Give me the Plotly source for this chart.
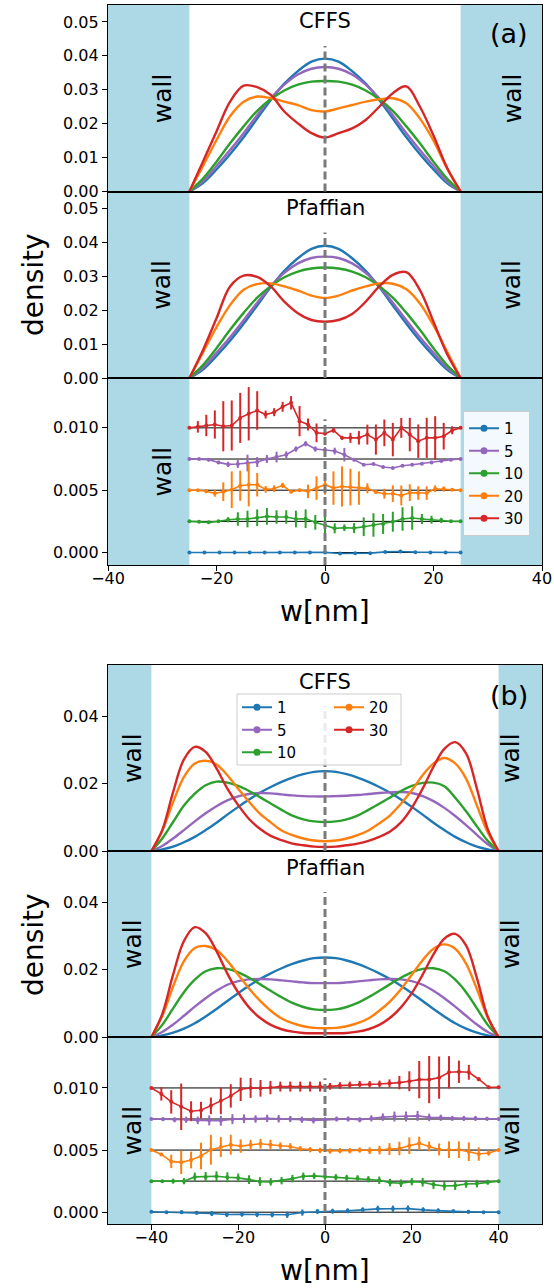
import plotly.graph_objects as go

# ------------------------------------------------------------------ data
LABELS = ["1", "5", "10", "20", "30"]
COLORS = ["#1f77b4", "#9467bd", "#2ca02c", "#ff7f0e", "#d62728"]
# vertical offsets used to stack the CFFS - Pfaffian differences
OFFSETS = [0.0, 0.0075, 0.0025, 0.005, 0.010]

# ---- (a): 50 nm channel ----
W_A = [-25.0, -22.5, -20.0, -17.5, -15.0, -12.5, -10.0, -7.5, -5.0, -2.5, 0.0,
       2.5, 5.0, 7.5, 10.0, 12.5, 15.0, 17.5, 20.0, 22.5, 25.0]

A_CFFS_1 = [0, 0.0025, 0.0065, 0.0110, 0.0160, 0.0215, 0.0270, 0.0318, 0.0355, 0.0383, 0.0392,
            0.0383, 0.0355, 0.0318, 0.0270, 0.0215, 0.0160, 0.0110, 0.0065, 0.0025, 0]
A_CFFS_5 = [0, 0.0030, 0.0075, 0.0122, 0.0172, 0.0225, 0.0275, 0.0315, 0.0345, 0.0362, 0.0367,
            0.0362, 0.0345, 0.0315, 0.0275, 0.0225, 0.0172, 0.0122, 0.0075, 0.0030, 0]
A_CFFS_10 = [0, 0.0038, 0.0088, 0.0142, 0.0192, 0.0238, 0.0272, 0.0298, 0.0315, 0.0324, 0.0326,
             0.0324, 0.0315, 0.0298, 0.0272, 0.0238, 0.0192, 0.0142, 0.0088, 0.0038, 0]
A_CFFS_20 = [0, 0.0075, 0.0152, 0.0222, 0.0265, 0.0280, 0.0275, 0.0265, 0.0255, 0.0240, 0.0236,
             0.0245, 0.0255, 0.0265, 0.0272, 0.0275, 0.0260, 0.0215, 0.0150, 0.0068, 0]
A_CFFS_30 = [0, 0.0088, 0.0177, 0.0265, 0.0312, 0.0308, 0.0285, 0.0236, 0.0201, 0.0172, 0.0159,
             0.0172, 0.0186, 0.0211, 0.0250, 0.0290, 0.0310, 0.0250, 0.0165, 0.0070, 0]

A_PF_1 = [0, 0.0025, 0.0065, 0.0110, 0.0160, 0.0214, 0.0268, 0.0316, 0.0353, 0.0381, 0.0390,
          0.0381, 0.0353, 0.0316, 0.0268, 0.0214, 0.0160, 0.0110, 0.0065, 0.0025, 0]
A_PF_5 = [0, 0.0030, 0.0074, 0.0120, 0.0170, 0.0222, 0.0271, 0.0310, 0.0338, 0.0354, 0.0358,
          0.0354, 0.0338, 0.0310, 0.0271, 0.0222, 0.0170, 0.0120, 0.0074, 0.0030, 0]
A_PF_10 = [0, 0.0038, 0.0088, 0.0142, 0.0192, 0.0237, 0.0271, 0.0297, 0.0314, 0.0323, 0.0326,
           0.0323, 0.0314, 0.0297, 0.0271, 0.0237, 0.0192, 0.0142, 0.0088, 0.0038, 0]
A_PF_20 = [0, 0.0075, 0.0150, 0.0215, 0.0260, 0.0277, 0.0279, 0.0270, 0.0258, 0.0243, 0.0236,
           0.0243, 0.0258, 0.0270, 0.0279, 0.0278, 0.0262, 0.0220, 0.0155, 0.0078, 0]
A_PF_30 = [0, 0.0082, 0.0176, 0.0270, 0.0302, 0.0298, 0.0270, 0.0225, 0.0191, 0.0171, 0.0166,
           0.0171, 0.0189, 0.0225, 0.0270, 0.0304, 0.0312, 0.0259, 0.0166, 0.0071, 0]

# differences (units of 1e-4) and their error bars
A_DX_1 = [-25, -22.22, -19.44, -16.67, -13.89, -11.11, -8.33, -5.56, -2.78, 0,
          2.78, 5.56, 8.33, 11.11, 13.89, 16.67, 19.44, 22.22, 25]
A_DX_5 = [-25, -23.21, -21.43, -19.64, -17.86, -16.07, -14.29, -12.5, -10.71, -8.93, -7.14,
          -5.36, -3.57, -1.79, 0, 1.79, 3.57, 5.36, 7.14, 8.93, 10.71, 12.5, 14.29, 16.07,
          17.86, 19.64, 21.43, 23.21, 25]
A_DX_10 = A_DX_5
A_DX_20 = [-25, -23.44, -21.88, -20.31, -18.75, -17.19, -15.63, -14.06, -12.5, -10.94, -9.38,
           -7.81, -6.25, -4.69, -3.13, -1.56, 0, 1.56, 3.13, 4.69, 6.25, 7.81, 9.38, 10.94,
           12.5, 14.06, 15.63, 17.19, 18.75, 20.31, 21.88, 23.44, 25]
A_DX_30 = A_DX_20

A_D_1 = [0, 0, 0, 0, 0, 0, 0, 0, 0.1, 0.1, -0.8, -0.6, -0.5, 0.5, 0.8, 0.3, 0, 0, 0]
A_E_1 = [0, 0.3, 0.3, 0.3, 0.3, 0.3, 0.3, 0.3, 0.3, 0.3, 0.4, 0.4, 0.4, 0.4, 0.4, 0.3, 0.3, 0.3, 0]
A_D_5 = [0, 0, -0.5, -2.7, -4.3, -4.0, -3.2, -2.4, 0, 1.6, 3.5, 8.0, 12.3, 8.0, 7.5, 6.4, 3.5,
         -0.5, -4.6, -4.0, -6.4, -7.2, -5.4, -4.6, -3.8, -2.7, -1.6, -0.5, 0]
A_E_5 = [0, 0.8, 1.3, 1.3, 2.1, 3.2, 6.7, 4.0, 3.2, 4.3, 2.7, 2.1, 2.1, 2.1, 2.1, 2.7, 5.4,
         1.3, 0.8, 0.8, 0.8, 0.8, 0.8, 0.8, 0.8, 0.8, 0.8, 0.8, 0]
A_D_10 = [0, -0.3, -0.8, 0, 1.3, 1.9, 1.9, 2.9, 4.0, 3.5, 3.5, 1.9, 2.1, -0.8, -2.9, -5.6, -5.1,
          -5.4, -4.3, -2.9, -2.1, -0.3, 1.9, 2.7, 1.9, 1.3, 0.8, 0, 0]
A_E_10 = [0, 0.5, 0.8, 1.1, 2.1, 5.4, 6.7, 6.7, 6.7, 5.4, 5.4, 6.7, 7.5, 5.9, 6.7, 4.0, 2.7,
          4.0, 7.5, 9.4, 8.0, 8.0, 9.4, 9.4, 4.0, 3.2, 2.1, 0.8, 0]
A_D_20 = [0, -0.1, -0.9, -2.5, -1.2, 0.4, 3.6, 4.4, 4.4, 0.7, 1.2, 3.9, -1.2, -0.1, -0.9, 1.7,
          4.4, 1.7, 3.0, 2.5, 1.7, 1.5, -1.5, -2.8, -2.8, -4.2, -2.0, -2.3, -2.3, 1.2, 0.9, 0.4, 0]
A_E_20 = [0, 0.8, 1.3, 2.7, 7.5, 14.7, 12.1, 17.4, 9.4, 2.7, 2.7, 2.1, 1.3, 1.3, 5.4, 9.4, 8.0,
          13.4, 16.1, 14.7, 13.4, 4.0, 1.3, 4.0, 6.7, 8.0, 6.7, 5.4, 5.4, 2.7, 2.1, 0.8, 0]
A_D_30 = [0, 0.8, 1.9, 2.7, 1.3, 1.9, 8.0, 11.3, 13.9, 10.7, 12.6, 16.9, 20.1, 5.4, 2.7, -4.0,
          -4.6, -1.9, -8.0, -8.0, -8.0, -5.4, -9.4, -4.0, -9.4, 0.0, -5.4, -10.7, -8.0, -8.0,
          -6.7, -1.9, 0]
A_E_30 = [0, 4.6, 8.6, 11.3, 20.1, 20.1, 20.1, 21.4, 15.5, 3.2, 3.2, 4.0, 5.4, 12.1, 4.8, 7.5,
          1.6, 2.1, 1.6, 4.0, 5.4, 8.0, 12.1, 10.7, 13.4, 8.0, 13.4, 13.4, 16.1, 17.4, 10.7, 3.2, 1.1]

# ---- (b): 80 nm channel ----
W_B = [-40.0, -37.5, -35.0, -32.5, -30.0, -27.5, -25.0, -22.5, -20.0, -17.5, -15.0, -12.5,
       -10.0, -7.5, -5.0, -2.5, 0.0, 2.5, 5.0, 7.5, 10.0, 12.5, 15.0, 17.5, 20.0, 22.5,
       25.0, 27.5, 30.0, 32.5, 35.0, 37.5, 40.0]

B_CFFS_1 = [0, 0.0005, 0.0013, 0.0026, 0.0042, 0.0062, 0.0084, 0.0108, 0.0131, 0.0153, 0.0173,
            0.0190, 0.0205, 0.0218, 0.0228, 0.0235, 0.0237, 0.0235, 0.0228, 0.0218, 0.0205,
            0.0190, 0.0173, 0.0153, 0.0131, 0.0108, 0.0084, 0.0062, 0.0042, 0.0026, 0.0013,
            0.0005, 0]
B_CFFS_5 = [0, 0.0015, 0.0037, 0.0062, 0.0088, 0.0112, 0.0133, 0.0150, 0.0162, 0.0169, 0.0172,
            0.0171, 0.0168, 0.0165, 0.0163, 0.0162, 0.0162, 0.0163, 0.0164, 0.0166, 0.0169,
            0.0172, 0.0174, 0.0175, 0.0172, 0.0163, 0.0148, 0.0128, 0.0104, 0.0077, 0.0048,
            0.0020, 0]
B_CFFS_10 = [0, 0.0037, 0.0086, 0.0135, 0.0170, 0.0195, 0.0206, 0.0203, 0.0193, 0.0178, 0.0160,
             0.0141, 0.0122, 0.0105, 0.0094, 0.0088, 0.0086, 0.0088, 0.0094, 0.0105, 0.0122,
             0.0140, 0.0159, 0.0178, 0.0193, 0.0202, 0.0203, 0.0192, 0.0158, 0.0118, 0.0073,
             0.0030, 0]
B_CFFS_20 = [0, 0.0060, 0.0145, 0.0220, 0.0260, 0.0268, 0.0257, 0.0225, 0.0185, 0.0146, 0.0111,
             0.0085, 0.0061, 0.0047, 0.0037, 0.0031, 0.0029, 0.0031, 0.0037, 0.0047, 0.0061,
             0.0082, 0.0106, 0.0140, 0.0180, 0.0225, 0.0260, 0.0276, 0.0260, 0.0215, 0.0135,
             0.0055, 0]
B_CFFS_30 = [0, 0.0062, 0.0175, 0.0272, 0.0309, 0.0294, 0.0245, 0.0185, 0.0136, 0.0095, 0.0066,
             0.0045, 0.0032, 0.0022, 0.0017, 0.0013, 0.0012, 0.0013, 0.0017, 0.0022, 0.0030,
             0.0042, 0.0058, 0.0085, 0.0128, 0.0185, 0.0250, 0.0303, 0.0323, 0.0290, 0.0185,
             0.0065, 0]

B_PF_1 = [0, 0.0005, 0.0013, 0.0025, 0.0041, 0.0061, 0.0083, 0.0107, 0.0130, 0.0152, 0.0172,
          0.0189, 0.0204, 0.0217, 0.0227, 0.0234, 0.0236, 0.0234, 0.0227, 0.0217, 0.0204,
          0.0189, 0.0172, 0.0152, 0.0130, 0.0107, 0.0083, 0.0061, 0.0041, 0.0025, 0.0013,
          0.0005, 0]
B_PF_5 = [0, 0.0015, 0.0037, 0.0063, 0.0090, 0.0115, 0.0137, 0.0155, 0.0166, 0.0171, 0.0172,
          0.0171, 0.0168, 0.0165, 0.0162, 0.0160, 0.0160, 0.0160, 0.0162, 0.0165, 0.0168,
          0.0171, 0.0172, 0.0171, 0.0166, 0.0155, 0.0137, 0.0115, 0.0090, 0.0063, 0.0037,
          0.0015, 0]
B_PF_10 = [0, 0.0036, 0.0085, 0.0133, 0.0170, 0.0195, 0.0204, 0.0202, 0.0192, 0.0176, 0.0157,
           0.0137, 0.0118, 0.0101, 0.0089, 0.0082, 0.0080, 0.0082, 0.0089, 0.0101, 0.0118,
           0.0137, 0.0157, 0.0176, 0.0192, 0.0202, 0.0204, 0.0195, 0.0170, 0.0133, 0.0085,
           0.0036, 0]
B_PF_20 = [0, 0.0062, 0.0150, 0.0225, 0.0264, 0.0270, 0.0258, 0.0226, 0.0185, 0.0144, 0.0108,
           0.0078, 0.0055, 0.0041, 0.0032, 0.0027, 0.0026, 0.0027, 0.0032, 0.0041, 0.0055,
           0.0078, 0.0106, 0.0142, 0.0185, 0.0228, 0.0262, 0.0275, 0.0262, 0.0218, 0.0142,
           0.0058, 0]
B_PF_30 = [0, 0.0068, 0.0185, 0.0285, 0.0326, 0.0308, 0.0255, 0.0188, 0.0132, 0.0088, 0.0057,
           0.0036, 0.0023, 0.0016, 0.0012, 0.0011, 0.0011, 0.0011, 0.0012, 0.0016, 0.0023,
           0.0036, 0.0057, 0.0088, 0.0130, 0.0185, 0.0245, 0.0292, 0.0306, 0.0272, 0.0175,
           0.0060, 0]

B_DX_1 = [-40, -36.52, -33.04, -29.57, -26.09, -22.61, -19.13, -15.65, -12.17, -8.70, -5.22,
          -1.74, 1.74, 5.22, 8.70, 12.17, 15.65, 19.13, 22.61, 26.09, 29.57, 33.04, 36.52, 40]
B_DX_5 = [-40, -37.33, -34.67, -32, -29.33, -26.67, -24, -21.33, -18.67, -16, -13.33, -10.67,
          -8, -5.33, -2.67, 0, 2.67, 5.33, 8, 10.67, 13.33, 16, 18.67, 21.33, 24, 26.67,
          29.33, 32, 34.67, 37.33, 40]
B_DX_10 = W_B
B_DX_20 = [-40, -37.71, -35.43, -33.14, -30.86, -28.57, -26.29, -24, -21.71, -19.43, -17.14,
           -14.86, -12.57, -10.29, -8, -5.71, -3.43, -1.14, 1.14, 3.43, 5.71, 8, 10.29, 12.57,
           14.86, 17.14, 19.43, 21.71, 24, 26.29, 28.57, 30.86, 33.14, 35.43, 37.71, 40]
B_DX_30 = B_DX_20

B_D_1 = [0.3, 0, 0, -0.5, -1.1, -1.9, -1.6, -1.9, -2.1, -2.1, -0.3, 0.5, 0.8, 1.1, 1.9, 2.7,
         2.8, 2.9, 1.9, 1.1, 0.7, 0.3, 0, 0]
B_E_1 = [0, 1, 1.5, 1.5, 2, 2, 2, 2, 2, 2.5, 2.5, 2, 2, 2, 2, 2.5, 2.5, 2.5, 2, 2, 1.5, 1.5, 1, 0]
B_D_5 = [0, -0.1, -0.6, -0.6, -1.1, -1.1, -1.4, -0.1, 0.2, 0, 0.5, 0.2, 0, -0.6, -1.1, -0.6,
         0, 0, -0.6, 0.5, 1.5, 2.0, 2.0, 2.5, 1.3, 1.0, 0.5, 0.5, 0.5, 0.2, 0]
B_E_5 = [0, 1.5, 2, 2.5, 3, 4, 4, 4, 3.5, 3, 3, 3, 2.5, 2.5, 2.5, 2, 2, 2, 2, 2.5, 3, 4, 4, 4,
         3, 2.5, 2, 2, 2, 1.5, 0]
B_D_10 = [0, 0, 0, 0, 3.4, 3.4, 3.9, 3.1, 2.6, 1.2, -0.4, -0.6, 0.4, 2.0, 3.9, 4.2, 3.6, 3.1,
          2.6, 2.3, 1.5, 0.7, -1.2, -1.7, -0.4, -0.9, -2.8, -3.9, -3.6, -2.3, -2.0, -0.9, 0]
B_E_10 = [0, 1, 2, 2.5, 3.5, 4, 4, 4, 3.5, 3.5, 3.5, 3, 3, 3, 3, 2.5, 2.5, 2.5, 2.5, 2.5, 2.5,
          3, 3, 3, 3, 3.5, 3.5, 3.5, 3.5, 3, 3, 2, 0]
B_D_20 = [0, -3.5, -9.1, -9.9, -8.0, -4.8, 0.3, 2.4, 4.3, 3.2, 4.3, 5.1, 4.3, 3.5, 2.9, 1.1, 0.3,
          -0.3, -0.8, -0.5, -0.5, 0, -0.5, 0, 0.8, 1.3, 3.5, 5.4, 2.9, 0.5, 0.3, 0.3, -1.3,
          -3.2, -2.4, 0]
B_E_20 = [0, 1.3, 5.4, 9.4, 6.7, 10.7, 12.0, 8.0, 8.0, 5.4, 4.0, 4.0, 4.0, 2.7, 2.7, 2.1, 2.1,
          2.1, 2.1, 2.1, 2.1, 2.1, 2.7, 3.5, 4.8, 5.4, 6.7, 5.4, 4.0, 4.8, 6.7, 6.7, 7.5, 5.4,
          2.1, 0]
B_D_30 = [0, -4.8, -11.2, -15.2, -18.7, -17.9, -14.4, -10.4, -6.4, -1.1, 0, -0.3, 0.3, 1.1,
          1.1, 1.1, 1.1, 1.1, 1.3, 1.9, 2.4, 2.9, 2.9, 3.2, 3.7, 4.3, 5.4, 6.7, 6.7, 8.3, 12.6,
          13.0, 12.6, 7.0, 0.5, 0.5]
B_E_30 = [0, 5.4, 9.4, 18.7, 8.0, 6.7, 6.7, 10.7, 9.4, 9.4, 8.0, 6.7, 5.4, 4.0, 4.0, 4.0, 4.0,
          4.0, 2.7, 2.7, 2.7, 2.7, 2.7, 2.7, 3.2, 5.4, 8.0, 15.0, 19.0, 17.0, 13.0, 9.0, 6.0,
          1.5, 1.3, 0]

# ---------------------------------------------------------------- layout
W, H = 554, 1288
FONT = "DejaVu Sans"
WALL_COLOR = "#add8e6"

# pixel rows (top, bottom) of the six stacked axes
ROWS = [(5, 191.5), (191.5, 378), (378, 565), (665, 851), (851, 1037), (1037, 1224)]
X_LEFT, X_RIGHT = 108, 542
X_RANGE = {"a": [-40, 40], "b": [-50, 50]}
WALL = {"a": 25, "b": 40}
Y_RANGE = [[0, 0.055], [0, 0.055], [-0.001, 0.0140],
           [0, 0.0552], [0, 0.0552], [-0.00095, 0.0141]]
Y_TICKS = [[0, 0.01, 0.02, 0.03, 0.04, 0.05], [0, 0.01, 0.02, 0.03, 0.04, 0.05],
           [0, 0.005, 0.010], [0, 0.02, 0.04], [0, 0.02, 0.04], [0, 0.005, 0.010]]
Y_FMT = [".2f", ".2f", ".3f", ".2f", ".2f", ".3f"]


def px(x):
    return x / W


def py(y):
    return 1 - y / H


def ax_name(k, letter):
    return letter if k == 1 else f"{letter}{k}"


fig = go.Figure()

density = {
    1: (W_A, [A_CFFS_1, A_CFFS_5, A_CFFS_10, A_CFFS_20, A_CFFS_30]),
    2: (W_A, [A_PF_1, A_PF_5, A_PF_10, A_PF_20, A_PF_30]),
    4: (W_B, [B_CFFS_1, B_CFFS_5, B_CFFS_10, B_CFFS_20, B_CFFS_30]),
    5: (W_B, [B_PF_1, B_PF_5, B_PF_10, B_PF_20, B_PF_30]),
}
for k, (xs, series) in density.items():
    for ys, col in zip(series, COLORS):
        fig.add_trace(go.Scatter(
            x=xs, y=ys, mode="lines", line=dict(color=col, width=2.4, shape="spline"),
            xaxis=ax_name(k, "x"), yaxis=ax_name(k, "y"), showlegend=False,
            hoverinfo="skip"))

diffs = {
    3: ("a", [(A_DX_1, A_D_1, A_E_1), (A_DX_5, A_D_5, A_E_5), (A_DX_10, A_D_10, A_E_10),
              (A_DX_20, A_D_20, A_E_20), (A_DX_30, A_D_30, A_E_30)]),
    6: ("b", [(B_DX_1, B_D_1, B_E_1), (B_DX_5, B_D_5, B_E_5), (B_DX_10, B_D_10, B_E_10),
              (B_DX_20, B_D_20, B_E_20), (B_DX_30, B_D_30, B_E_30)]),
}
for k, (panel, series) in diffs.items():
    xa, ya = ax_name(k, "x"), ax_name(k, "y")
    w = WALL[panel]
    for off in OFFSETS:
        fig.add_trace(go.Scatter(
            x=[-w, w], y=[off, off], mode="lines", line=dict(color="black", width=1),
            xaxis=xa, yaxis=ya, showlegend=False, hoverinfo="skip"))
    for (xs, d, e), col, off in zip(series, COLORS, OFFSETS):
        fig.add_trace(go.Scatter(
            x=xs, y=[off + v * 1e-4 for v in d], mode="lines+markers",
            line=dict(color=col, width=1.6), marker=dict(color=col, size=4),
            error_y=dict(type="data", array=[v * 1e-4 for v in e], color=col,
                         thickness=2, width=0),
            xaxis=xa, yaxis=ya, showlegend=False, hoverinfo="skip"))

# legend entries
for i, (lab, col) in enumerate(zip(LABELS, COLORS)):
    for leg in ("legend", "legend2" if i < 3 else "legend3"):
        fig.add_trace(go.Scatter(
            x=[None], y=[None], mode="lines+markers", name=lab,
            line=dict(color=col, width=2), marker=dict(color=col, size=7),
            legend=leg, showlegend=True))

layout = dict(
    width=W, height=H, margin=dict(l=0, r=0, t=0, b=0), autosize=False,
    paper_bgcolor="white", plot_bgcolor="white",
    font=dict(family=FONT, color="black", size=16),
    shapes=[], annotations=[],
)

for k, (top, bot) in enumerate(ROWS, 1):
    panel = "a" if k <= 3 else "b"
    bottom_row = k in (3, 6)
    layout["xaxis" if k == 1 else f"xaxis{k}"] = dict(
        domain=[px(X_LEFT), px(X_RIGHT)], range=X_RANGE[panel], anchor=ax_name(k, "y"),
        showline=True, mirror=True, linecolor="black", linewidth=1.2,
        showgrid=False, zeroline=False, automargin=False,
        ticks="outside" if bottom_row else "", showticklabels=bottom_row,
        tickvals=[-40, -20, 0, 20, 40], ticklen=5, tickwidth=1.2, tickcolor="black",
        ticklabelstandoff=-6,
        tickfont=dict(size=16, color="black", family=FONT))
    layout["yaxis" if k == 1 else f"yaxis{k}"] = dict(
        domain=[py(bot), py(top)], range=Y_RANGE[k - 1], anchor=ax_name(k, "x"),
        showline=True, mirror=True, linecolor="black", linewidth=1.2,
        showgrid=False, zeroline=False, automargin=False,
        ticks="outside", tickvals=Y_TICKS[k - 1], tickformat=Y_FMT[k - 1],
        ticklen=5, tickwidth=1.2, tickcolor="black",
        tickfont=dict(size=16, color="black", family=FONT))

    xr = X_RANGE[panel]
    w = WALL[panel]
    xa, ya = ax_name(k, "x"), ax_name(k, "y")
    for x0, x1 in ((xr[0], -w), (w, xr[1])):
        layout["shapes"].append(dict(
            type="rect", xref=xa, yref=f"{ya} domain", x0=x0, x1=x1, y0=0, y1=1,
            fillcolor=WALL_COLOR, line=dict(width=0), layer="below"))
    layout["shapes"].append(dict(
        type="line", xref=xa, yref=f"{ya} domain", x0=0, x1=0, y0=0, y1=0.78,
        line=dict(color="#7a7a7a", width=3, dash="8px,4px"), layer="above"))

    # "wall" labels
    mid = (top + bot) / 2
    wall_x = (162, 512) if panel == "a" else (132, 510)
    sides = [0] if k == 3 else [0, 1]
    for s in sides:
        layout["annotations"].append(dict(
            text="wall", x=px(wall_x[s]), y=py(mid), xref="paper", yref="paper",
            showarrow=False, textangle=-90, font=dict(size=25, family=FONT),
            xanchor="center", yanchor="middle"))

# legend frame for the two-column legend of (b)
layout["shapes"].append(dict(
    type="rect", xref="paper", yref="paper", x0=px(237), x1=px(401), y0=py(765), y1=py(694),
    fillcolor="rgba(255,255,255,0.85)", line=dict(color="#cccccc", width=1), layer="above"))

titles = [("CFFS", 21), ("Pfaffian", 208), ("CFFS", 682), ("Pfaffian", 868)]
for txt, y in titles:
    layout["annotations"].append(dict(
        text=txt, x=px(325), y=py(y), xref="paper", yref="paper", showarrow=False,
        font=dict(size=21, family=FONT), xanchor="center", yanchor="middle"))

for txt, y in (("(a)", 33), ("(b)", 695)):
    layout["annotations"].append(dict(
        text=txt, x=px(509), y=py(y), xref="paper", yref="paper", showarrow=False,
        font=dict(size=27, family=FONT), xanchor="center", yanchor="middle"))

for y in (285, 945):
    layout["annotations"].append(dict(
        text="density", x=px(33), y=py(y), xref="paper", yref="paper", showarrow=False,
        textangle=-90, font=dict(size=28, family=FONT), xanchor="center", yanchor="middle"))

for y in (611, 1270):
    layout["annotations"].append(dict(
        text="w[nm]", x=px(325), y=py(y), xref="paper", yref="paper", showarrow=False,
        font=dict(size=28, family=FONT), xanchor="center", yanchor="middle"))

legend_font = dict(size=15, family=FONT, color="black")
layout["legend"] = dict(
    x=px(463), y=py(411), xanchor="left", yanchor="top",
    bgcolor="rgba(255,255,255,0.85)", bordercolor="#cccccc", borderwidth=1,
    font=legend_font, itemwidth=30, tracegroupgap=0)
layout["legend2"] = dict(
    x=px(237), y=py(691), xanchor="left", yanchor="top",
    bgcolor="rgba(0,0,0,0)", borderwidth=0, font=legend_font, itemwidth=30)
layout["legend3"] = dict(
    x=px(329), y=py(691), xanchor="left", yanchor="top",
    bgcolor="rgba(0,0,0,0)", borderwidth=0, font=legend_font, itemwidth=30)

fig.update_layout(**layout)
fig.write_html("out.html")
